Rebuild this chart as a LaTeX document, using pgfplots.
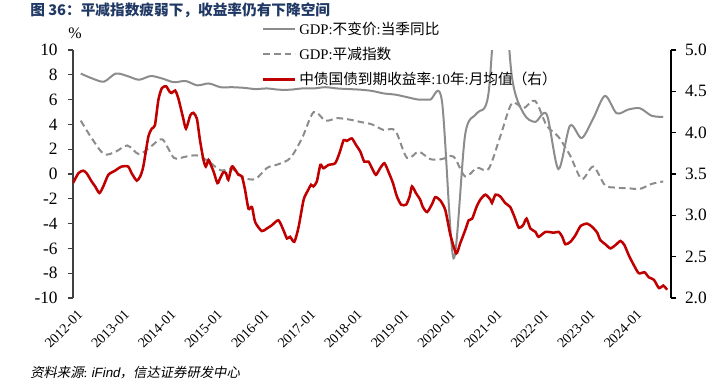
\documentclass[border=0pt]{standalone}
\usepackage{fontspec}
\setmainfont{Liberation Serif}
\newfontfamily\cjk{Noto Sans CJK SC}
\newfontfamily\cjkit{Noto Sans CJK SC}[FakeSlant=0.2]
\newfontfamily\sansit{Liberation Sans}[FakeSlant=0.2]
\usepackage{pgfplots}
\pgfplotsset{compat=1.18}
\definecolor{gline}{HTML}{8C8C8C}
\definecolor{rline}{HTML}{C00000}
\definecolor{ttl}{HTML}{1F3864}
\definecolor{axc}{HTML}{404040}

\begin{document}
\begin{tikzpicture}
\begin{axis}[
  scale only axis, width=448.5pt, height=186pt,
  xmin=0, xmax=154, ymin=-10, ymax=10,
  axis y line*=left, axis x line*=bottom,
  x axis line style={opacity=0},
  xtick={0,12,24,36,48,60,72,84,96,108,120,132,144},
  xticklabels={2012-01,2013-01,2014-01,2015-01,2016-01,2017-01,2018-01,2019-01,2020-01,2021-01,2022-01,2023-01,2024-01},
  major x tick style={draw=none},
  ytick={-10,-8,-6,-4,-2,0,2,4,6,8,10},
  tick align=outside, major tick length=4pt,
  y axis line style={color=axc, line width=0.9pt},
  major y tick style={color=axc, line width=0.9pt},
  xticklabel style={rotate=45, anchor=north east, font=\fontsize{10.5}{12}\selectfont, inner sep=1pt, yshift=-4pt},
  yticklabel style={font=\fontsize{13}{15}\selectfont, xshift=-4pt},
  /pgf/number format/assume math mode=true,
  legend style={at={(rel axis cs:0.316,1.125)}, anchor=north west, draw=none, fill=none,
    font=\fontsize{11}{13}\selectfont, row sep=4pt, inner sep=0pt,
    /tikz/every even column/.append style={column sep=2pt}},
  legend cell align=left,
  legend image code/.code={\draw[#1] (0pt,0pt) -- (24pt,0pt);},
  clip=true,
]
\addplot[gline, line width=1.5pt, smooth] coordinates {
(2,8.1)(5,7.7)(8,7.45)(11,8.1)(14,7.9)(17,7.6)(20,7.9)(23,7.7)(26,7.4)(29,7.5)(32,7.15)(35,7.3)(38,7.0)(41,7.0)(44,6.95)(47,6.85)(50,6.9)(53,6.8)(56,6.8)(59,6.9)(62,6.9)(65,7.0)(68,6.9)(71,6.85)(74,6.8)(77,6.7)(80,6.5)(83,6.4)(86,6.2)(89,6.0)(92,6.0)(95,5.9)(98,-6.8)(101,3.2)(104,4.9)(107,6.5)(110,18.3)(113,7.9)(116,4.9)(119,4.2)(122,4.8)(125,0.4)(128,3.9)(131,2.9)(134,4.5)(137,6.3)(140,4.9)(143,5.2)(146,5.3)(149,4.7)(152,4.6)
};
\addlegendentry{GDP:{\cjk 不变价}:{\cjk 当季同比}}
\addplot[gline, line width=1.5pt, smooth, dash pattern=on 5pt off 3pt] coordinates {
(2,4.3)(5,2.8)(8,1.6)(11,1.8)(14,2.3)(17,1.6)(20,2.2)(23,2.8)(26,1.3)(29,1.4)(32,1.5)(35,1.0)(38,0.3)(41,0.4)(44,-0.3)(47,-0.4)(50,0.5)(53,0.8)(56,1.3)(59,2.9)(62,5.0)(65,4.3)(68,4.5)(71,4.4)(74,4.2)(77,4.0)(80,3.55)(83,3.5)(86,1.3)(89,1.8)(92,1.2)(95,1.2)(98,1.4)(101,-0.2)(104,0.5)(107,0.4)(110,3.0)(113,5.7)(116,5.3)(119,5.9)(122,3.9)(125,3.0)(128,1.5)(131,-0.4)(134,0.6)(137,-0.9)(140,-1.1)(143,-1.15)(146,-1.2)(149,-0.8)(152,-0.6)
};
\addlegendentry{GDP:{\cjk 平减指数}}
\addlegendimage{rline, line width=1.8pt}
\addlegendentry{{\cjk 中债国债到期收益率}:10{\cjk 年}:{\cjk 月均值（右）}}
\end{axis}
\begin{axis}[
  scale only axis, width=448.5pt, height=186pt,
  xmin=0, xmax=154, ymin=2, ymax=5,
  axis y line*=right, axis x line=none,
  ytick={2,2.5,3,3.5,4,4.5,5},
  tick align=outside, major tick length=4pt,
  y axis line style={color=black, line width=0.9pt},
  major y tick style={color=black, line width=0.9pt},
  yticklabel style={font=\fontsize{13}{15}\selectfont, xshift=3pt,
    /pgf/number format/fixed, /pgf/number format/fixed zerofill, /pgf/number format/precision=1},
  /pgf/number format/assume math mode=true,
]
\addplot[rline, line width=1.9pt, smooth, tension=0.4] coordinates {
(0,3.39)(1.4,3.51)(2.6,3.54)(3.5,3.51)(4.8,3.41)(5.7,3.35)(6.8,3.27)(7.8,3.35)(9.1,3.49)(10.8,3.54)(12.5,3.59)(14.2,3.59)(15.1,3.51)(16.4,3.42)(17.3,3.47)(18.1,3.59)(19.4,3.95)(20.3,4.05)(21.1,4.09)(22.0,4.40)(22.9,4.54)(24.0,4.56)(24.8,4.50)(25.4,4.48)(26.3,4.51)(27.1,4.42)(28.3,4.19)(29.1,4.05)(30.2,4.21)(31.0,4.24)(31.9,4.17)(32.7,3.91)(33.6,3.67)(34.2,3.59)(34.9,3.67)(35.5,3.61)(36.2,3.53)(37.2,3.39)(37.9,3.45)(38.7,3.52)(39.4,3.51)(40.0,3.43)(40.9,3.59)(41.8,3.55)(42.6,3.49)(43.5,3.47)(44.3,3.31)(45.2,3.08)(46.1,3.10)(46.9,2.92)(48.6,2.81)(49.9,2.84)(51.2,2.88)(52.9,2.94)(54.2,2.82)(55.1,2.72)(55.9,2.74)(57.0,2.68)(58.1,2.86)(59.4,3.19)(60.6,3.31)(61.3,3.37)(61.9,3.35)(62.8,3.41)(63.7,3.61)(64.5,3.57)(65.8,3.61)(67.5,3.63)(68.6,3.75)(69.7,3.91)(70.5,3.90)(71.8,3.93)(72.9,3.85)(74.0,3.77)(75.0,3.65)(76.1,3.65)(77.0,3.57)(78.0,3.49)(79.1,3.57)(80.2,3.63)(81.3,3.52)(82.4,3.39)(83.4,3.23)(84.5,3.13)(85.8,3.13)(86.7,3.23)(87.3,3.35)(88.3,3.27)(89.4,3.19)(90.1,3.10)(91.2,3.04)(92.5,3.14)(93.3,3.22)(94.6,3.18)(95.9,3.06)(97.2,2.76)(98.7,2.54)(99.7,2.66)(101.0,2.82)(101.9,2.94)(102.8,2.96)(103.9,3.10)(104.9,3.19)(106.2,3.25)(107.5,3.19)(107.9,3.15)(108.8,3.25)(110.0,3.23)(111.3,3.15)(112.6,3.10)(113.7,2.98)(114.8,2.85)(115.9,2.88)(116.8,2.96)(117.8,2.84)(119.1,2.80)(119.9,2.74)(121.7,2.80)(123.8,2.79)(125.1,2.80)(126.0,2.74)(126.8,2.65)(128.1,2.68)(129.4,2.76)(130.7,2.87)(132.4,2.90)(133.7,2.86)(135.0,2.79)(135.8,2.70)(137.1,2.65)(138.4,2.60)(139.7,2.64)(141.0,2.69)(142.0,2.64)(143.1,2.52)(144.4,2.40)(145.7,2.30)(147.2,2.31)(148.3,2.25)(149.6,2.22)(150.9,2.12)(152.0,2.15)(153.0,2.10)
};
\end{axis}
\node[anchor=west, text=ttl, font=\fontsize{11}{13}\selectfont\cjk\bfseries, inner sep=0pt] at (-32.25pt,216pt) {图 36：平减指数疲弱下，收益率仍有下降空间};
\node[anchor=center, font=\fontsize{12}{14}\selectfont, inner sep=0pt] at (1.5pt,198.75pt) {\%};
\node[anchor=west, font=\fontsize{10}{12}\selectfont, inner sep=0pt] at (-32.25pt,-56.25pt) {{\cjkit 资料来源}:{\sansit\ iFind}{\cjkit ，信达证券研发中心}};
\pgfresetboundingbox
\path[use as bounding box] (-54.75pt,-66.75pt) rectangle (480.75pt,223.5pt);
\end{tikzpicture}
\end{document}
